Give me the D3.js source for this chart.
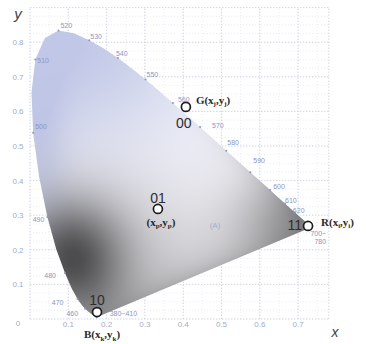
<!DOCTYPE html>
<html>
<head>
<meta charset="utf-8">
<script src="https://cdn.jsdelivr.net/npm/d3@7"></script>
<style>
  html, body { margin: 0; padding: 0; background: #fff; }
  svg { display: block; }
</style>
</head>
<body>
<svg id="chart" width="366" height="344"></svg>
<script>
// CIE 1931 2° spectral locus, 380–700 nm
const wavelengths = [380,385,390,395,400,405,410,415,420,425,430,435,440,445,450,455,460,465,470,475,
  480,485,490,495,500,505,510,515,520,525,530,535,540,545,550,555,560,565,570,575,580,585,590,595,
  600,605,610,615,620,625,630,635,640,645,650,655,660,665,670,675,680,690,700];
const locusX = [0.1741,0.1740,0.1738,0.1736,0.1733,0.1730,0.1726,0.1721,0.1714,0.1703,0.1689,0.1669,
  0.1644,0.1611,0.1566,0.1510,0.1440,0.1355,0.1241,0.1096,0.0913,0.0687,0.0454,0.0235,0.0082,0.0039,
  0.0139,0.0389,0.0743,0.1142,0.1547,0.1929,0.2296,0.2658,0.3016,0.3373,0.3731,0.4087,0.4441,0.4788,
  0.5125,0.5448,0.5752,0.6029,0.6270,0.6482,0.6658,0.6801,0.6915,0.7006,0.7079,0.7140,0.7190,0.7230,
  0.7260,0.7283,0.7300,0.7311,0.7320,0.7327,0.7334,0.7344,0.7347];
const locusY = [0.0050,0.0050,0.0049,0.0049,0.0048,0.0048,0.0048,0.0048,0.0051,0.0058,0.0069,0.0086,
  0.0109,0.0138,0.0177,0.0227,0.0297,0.0399,0.0578,0.0868,0.1327,0.2007,0.2950,0.4127,0.5384,0.6548,
  0.7502,0.8120,0.8338,0.8262,0.8059,0.7816,0.7543,0.7243,0.6923,0.6589,0.6245,0.5896,0.5547,0.5202,
  0.4866,0.4544,0.4242,0.3965,0.3725,0.3514,0.3340,0.3197,0.3083,0.2993,0.2920,0.2859,0.2809,0.2770,
  0.2740,0.2717,0.2700,0.2689,0.2680,0.2673,0.2666,0.2656,0.2653];

// Wavelengths printed along the locus
const markNm   = [520, 530, 540, 550, 560, 570, 580, 590, 600, 610, 620, 700, 510, 500, 490, 480, 470, 460, 380];
const markText = ["520","530","540","550","560","570","580","590","600","610","620","700~|780",
                  "510","500","490","480","470","460","380~410"];

// Primaries, white point and their codes
const primaryX     = [0.407, 0.334, 0.726, 0.175];
const primaryY     = [0.613, 0.318, 0.269, 0.020];
const primaryCode  = ["00", "01", "11", "10"];
const primaryName  = ["G", "", "R", "B"];
const primarySub   = ["j", "p", "i", "k"];

const noteX = [0.483];
const noteY = [0.272];
const noteText = ["(A)"];

const xTicks = [0.1, 0.2, 0.3, 0.4, 0.5, 0.6, 0.7];
const yTicks = [0, 0.1, 0.2, 0.3, 0.4, 0.5, 0.6, 0.7, 0.8];
const xTickLabels = ["0.1","0.2","0.3","0.4","0.5","0.6","0.7"];
const yTickLabels = ["0","0.1","0.2","0.3","0.4","0.5","0.6","0.7","0.8"];

const W = 366, H = 344;
const x = d3.scaleLinear().domain([0, 0.78]).range([30, 30 + 0.78 * 383]);
const y = d3.scaleLinear().domain([0, 0.9]).range([319, 319 - 0.9 * 346]);

const svg = d3.select("#chart");
const locus = wavelengths.map((w, i) => ({ w, x: locusX[i], y: locusY[i] }));
const byNm = new Map(locus.map(d => [d.w, d]));

// ---- grid ----
const grid = svg.append("g");
const minorX = d3.range(0, 0.781, 0.05);
const minorY = d3.range(0, 0.901, 0.025);
grid.selectAll(".mx").data(minorX).join("line")
  .attr("x1", d => x(d)).attr("x2", d => x(d)).attr("y1", y(0)).attr("y2", y(0.9))
  .attr("stroke", "#e2e5f0").attr("stroke-width", 0.7).attr("stroke-dasharray", "1,2");
grid.selectAll(".my").data(minorY).join("line")
  .attr("y1", d => y(d)).attr("y2", d => y(d)).attr("x1", x(0)).attr("x2", x(0.78))
  .attr("stroke", "#e2e5f0").attr("stroke-width", 0.7).attr("stroke-dasharray", "1,2");
grid.selectAll(".gx").data([0, ...xTicks, 0.78]).join("line")
  .attr("x1", d => x(d)).attr("x2", d => x(d)).attr("y1", y(0)).attr("y2", y(0.9))
  .attr("stroke", "#cdd2e4").attr("stroke-width", 0.8).attr("stroke-dasharray", "1.5,1.5");
grid.selectAll(".gy").data([...yTicks, 0.9]).join("line")
  .attr("y1", d => y(d)).attr("y2", d => y(d)).attr("x1", x(0)).attr("x2", x(0.78))
  .attr("stroke", "#cdd2e4").attr("stroke-width", 0.8).attr("stroke-dasharray", "1.5,1.5");

// ---- shaded gamut ----
const pathGen = d3.line().x(d => x(d.x)).y(d => y(d.y));
svg.append("clipPath").attr("id", "gamut")
  .append("path").attr("d", pathGen(locus) + "Z");

const canvas = document.createElement("canvas");
canvas.width = W; canvas.height = H;
const ctx = canvas.getContext("2d");
const img = ctx.createImageData(W, H);

// anchor points of the tonal wash, in chromaticity coordinates
const P = (cx, cy) => [x(cx), y(cy)];
const [gx0, gy0] = P(0.104, 0.806);   // green apex wash
const [lx0, ly0] = P(0.013, 0.480);   // cyan edge wash
const [bx0, by0] = P(0.105, 0.180);   // deep blue-cyan shadow
const [cx0, cy0] = P(0.170, 0.040);   // violet corner
const [rx0, ry0] = P(0.718, 0.280);   // red corner
const pV = [x(locusX[0]), y(locusY[0])];
const pR = [x(locusX[locusX.length - 1]), y(locusY[locusY.length - 1])];
const pG = [x(0.3016), y(0.6923)];

function distToLine(px, py, a, b) {
  const dx = b[0] - a[0], dy = b[1] - a[1];
  return Math.abs(dy * px - dx * py + b[0] * a[1] - b[1] * a[0]) / Math.hypot(dx, dy);
}
const gauss = (px, py, cx, cy, sx, sy) =>
  Math.exp(-((px - cx) ** 2 / (2 * sx * sx) + (py - cy) ** 2 / (2 * sy * sy)));

for (let py = 0; py < H; py++) {
  for (let px = 0; px < W; px++) {
    const wl = Math.min(0.92, 0.9 * gauss(px, py, gx0, gy0, 95, 78) + 0.5 * gauss(px, py, lx0, ly0, 22, 70));
    const r = 247 + (188 - 247) * wl, g = 247 + (195 - 247) * wl, b = 251 + (229 - 251) * wl;
    const dB = 0.5 * gauss(px, py, bx0, by0, 36, 40) + 0.2 * gauss(px, py, bx0 + 30, by0 + 5, 75, 60);
    const dC = 0.12 * gauss(px, py, cx0, cy0, 30, 26);
    const dR = 0.36 * gauss(px, py, rx0, ry0, 50, 36);
    const along = Math.min(1, Math.abs(px - pR[0]) / 80);
    const dE = (0.22 - 0.06 * Math.max(0, 1 - Math.abs(px - 110) / 60)) * Math.exp(-distToLine(px, py, pV, pR) / 18) * (0.7 + 0.3 * along);
    const dS = 0.15 * Math.exp(-distToLine(px, py, pG, pR) / 14) * Math.min(1, Math.max(0, (px - 180) / 120));
    const k = (1 - Math.min(0.68, dB)) * (1 - dC) * (1 - dR) * (1 - dE) * (1 - dS);
    const i = (py * W + px) * 4;
    img.data[i] = r * k; img.data[i + 1] = g * k; img.data[i + 2] = b * k; img.data[i + 3] = 255;
  }
}
ctx.putImageData(img, 0, 0);

svg.append("image")
  .attr("href", canvas.toDataURL())
  .attr("x", 0).attr("y", 0).attr("width", W).attr("height", H)
  .attr("clip-path", "url(#gamut)");

// ---- axis tick labels ----
const tickColor = "#a3acca";
svg.append("g").selectAll("text").data(xTicks).join("text")
  .attr("x", d => x(d)).attr("y", y(0) + 8)
  .attr("text-anchor", "middle")
  .attr("font-family", "Liberation Sans, Arial, sans-serif").attr("font-size", 8)
  .attr("fill", tickColor)
  .text((d, i) => xTickLabels[i]);
svg.append("g").selectAll("text").data(yTicks).join("text")
  .attr("x", 18).attr("y", d => y(d) + (d === 0 ? 6.5 : 3))
  .attr("text-anchor", "middle")
  .attr("font-family", "Liberation Sans, Arial, sans-serif").attr("font-size", 8)
  .attr("fill", tickColor)
  .text((d, i) => yTickLabels[i]);

svg.append("text").attr("x", 18).attr("y", 19).attr("text-anchor", "middle")
  .attr("font-family", "Liberation Sans, Arial, sans-serif").attr("font-style", "italic")
  .attr("font-size", 15).attr("fill", "#444").text("y");
svg.append("text").attr("x", 335).attr("y", 337).attr("text-anchor", "middle")
  .attr("font-family", "Liberation Sans, Arial, sans-serif").attr("font-style", "italic")
  .attr("font-size", 14).attr("fill", "#444").text("x");

// ---- wavelength marks ----
const markColor = "#8c97c0";
const nudge = {
  520: [2, -3, "start"], 530: [1, -1, "start"], 540: [-2, -2, "start"], 550: [1, -2, "start"],
  560: [5, -1, "start"], 570: [12, 1, "start"], 580: [1, -6, "start"], 590: [3, -9, "start"],
  600: [3, -1, "start"], 610: [0, 0, "start"], 620: [-2, 1, "start"], 700: [-1, 9, "start"],
  510: [2, 4, "start"], 500: [2, -4, "start"], 490: [-3, 5, "end"], 480: [-9, 5, "end"],
  470: [-14, 6, "end"], 460: [-7, 7, "end"], 380: [13, -1, "start"]
};
const marks = markNm.map((nm, i) => ({ nm, text: markText[i], p: byNm.get(nm) }));
svg.append("g").selectAll("circle").data(marks).join("circle")
  .attr("cx", d => x(d.p.x)).attr("cy", d => y(d.p.y)).attr("r", 1)
  .attr("fill", markColor);
const mt = svg.append("g").selectAll("text").data(marks).join("text")
  .attr("x", d => x(d.p.x) + nudge[d.nm][0])
  .attr("y", d => y(d.p.y) + nudge[d.nm][1])
  .attr("text-anchor", d => nudge[d.nm][2])
  .attr("font-family", "Liberation Sans, Arial, sans-serif").attr("font-size", 7)
  .attr("fill", markColor);
mt.each(function(d) {
  const parts = d.text.split("|");
  const t = d3.select(this);
  parts.forEach((s, j) => t.append("tspan")
    .attr("x", x(d.p.x) + nudge[d.nm][0] + j * 4)
    .attr("dy", j === 0 ? 0 : 8).text(s));
});

// ---- primaries ----
const prim = primaryX.map((v, i) => ({ x: v, y: primaryY[i], code: primaryCode[i], name: primaryName[i], sub: primarySub[i] }));
const codePos = [[-2, 21, "middle"], [0, -6, "middle"], [-6, 4, "end"], [0, -7, "middle"]];
const namePos = [[10, -3, "start"], [3, 17, "middle"], [13, 0, "start"], [5, 26, "middle"]];

svg.append("g").selectAll("text").data(prim).join("text")
  .attr("x", (d, i) => x(d.x) + codePos[i][0]).attr("y", (d, i) => y(d.y) + codePos[i][1])
  .attr("text-anchor", (d, i) => codePos[i][2])
  .attr("font-family", "Liberation Sans, Arial, sans-serif").attr("font-size", 14)
  .attr("fill", "#2e2e2e").text(d => d.code);

const nm = svg.append("g").selectAll("text").data(prim).join("text")
  .attr("x", (d, i) => x(d.x) + namePos[i][0]).attr("y", (d, i) => y(d.y) + namePos[i][1])
  .attr("text-anchor", (d, i) => namePos[i][2])
  .attr("font-family", "Liberation Serif, Times New Roman, serif").attr("font-size", 11)
  .attr("font-weight", "bold").attr("fill", "#2a2a2a");
nm.each(function(d) {
  const t = d3.select(this);
  t.append("tspan").text(d.name + "(x");
  t.append("tspan").attr("font-size", 7).attr("dy", 2.5).text(d.sub);
  t.append("tspan").attr("dy", -2.5).text(",y");
  t.append("tspan").attr("font-size", 7).attr("dy", 2.5).text(d.sub);
  t.append("tspan").attr("dy", -2.5).text(")");
});

svg.append("g").selectAll("circle").data(prim).join("circle")
  .attr("cx", d => x(d.x)).attr("cy", d => y(d.y)).attr("r", 4.5)
  .attr("fill", "#fff").attr("stroke", "#1e1e1e").attr("stroke-width", 1.7);

svg.append("g").selectAll("text").data(noteX).join("text")
  .attr("x", d => x(d)).attr("y", (d, i) => y(noteY[i]) + 3)
  .attr("text-anchor", "middle")
  .attr("font-family", "Liberation Sans, Arial, sans-serif").attr("font-size", 8)
  .attr("fill", "#a3acca").text((d, i) => noteText[i]);
</script>
</body>
</html>
